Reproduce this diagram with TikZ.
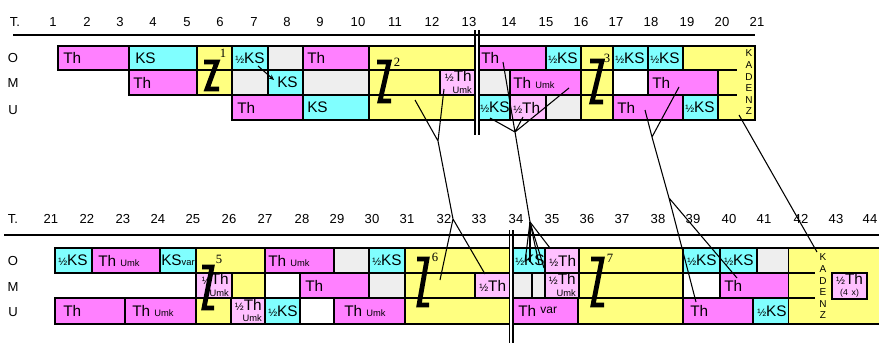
\documentclass[tikz,border=0pt]{standalone}
\usepackage{fontspec}
\setmainfont{Liberation Sans}
\newfontfamily\seriffont{Liberation Serif}
\usepackage{xcolor}
\usepackage{tikz}
\usetikzlibrary{arrows.meta}

\definecolor{thmag}{RGB}{255,128,255}
\definecolor{kscyan}{RGB}{128,255,255}
\definecolor{zyel}{RGB}{255,255,128}
\definecolor{halfpink}{RGB}{255,192,255}
\definecolor{restgrey}{RGB}{238,238,238}

\begin{document}
\begin{tikzpicture}[x=0.75pt, y=-0.75pt,
    every node/.style={inner sep=0pt},
    cell/.style={draw, line width=1.1pt},
    txt/.style={anchor=west, font=\fontsize{11.5}{12}\selectfont},
    twoln/.style={anchor=east, align=right, font=\fontsize{11.5}{8.5}\selectfont},
    num/.style={font=\fontsize{9.8}{10}\selectfont},
    zline/.style={line width=3.6pt, line join=miter},
    zsup/.style={font=\seriffont\fontsize{9.5}{9.5}\selectfont},
    link/.style={line width=0.8pt},
    kad/.style={align=center, font=\fontsize{7.5}{8.7}\selectfont},
]
\useasboundingbox (0,0) rectangle (879,343);

% bars, top half
\foreach \xa/\xb/\ya/\yb/\col in {
  58/129/46/70/thmag, 129/197/46/70/kscyan, 197/232/46/70/zyel, 232/268/46/70/kscyan,
  268/303/46/70/restgrey, 303/369/46/70/thmag, 369/475/46/70/zyel, 479/546/46/70/thmag,
  546/581/46/70/kscyan, 581/613/46/70/zyel, 613/648/46/70/kscyan, 648/683/46/70/kscyan,
  129/197/70/95/thmag, 197/232/70/95/zyel, 232/268/70/95/restgrey, 268/303/70/95/kscyan,
  303/369/70/95/restgrey, 369/440/70/95/zyel, 440/475/70/95/halfpink, 479/510/70/95/restgrey,
  510/581/70/95/thmag, 581/613/70/95/zyel, 613/648/70/95/white, 648/718/70/95/thmag,
  232/303/95/120/thmag, 303/369/95/120/kscyan, 369/475/95/120/zyel, 479/510/95/120/kscyan,
  510/546/95/120/halfpink, 546/581/95/120/restgrey, 581/613/95/120/zyel, 613/683/95/120/thmag,
  683/718/95/120/kscyan}
  \draw[cell, fill=\col] (\xa,\ya) rectangle (\xb,\yb);
\draw[cell, fill=zyel] (683,70) -- (683,46) -- (755,46) -- (755,120) -- (718,120) -- (718,70) -- cycle;
\draw[cell] (718,70) -- (737,70) (718,95) -- (737,95);

% bars, bottom half
\foreach \xa/\xb/\ya/\yb/\col in {
  55/92/248/273/kscyan, 92/160/248/273/thmag, 160/196/248/273/kscyan, 196/265/248/273/zyel,
  265/334/248/273/thmag, 334/369/248/273/restgrey, 369/405/248/273/kscyan, 405/509.5/248/273/zyel,
  513/545/248/273/kscyan, 545/579/248/273/halfpink, 579/683/248/273/zyel, 683/720/248/273/kscyan,
  720/757/248/273/kscyan, 757/789/248/273/restgrey,
  196/232/273/298/halfpink, 232/265/273/298/zyel, 265/300/273/298/white, 300/369/273/298/thmag,
  369/405/273/298/restgrey, 405/475/273/298/zyel, 475/509.5/273/298/halfpink, 513/532/273/298/restgrey,
  532/545/273/298/restgrey, 545/579/273/298/halfpink, 579/683/273/298/zyel, 683/720/273/298/white,
  720/789/273/298/thmag,
  55/125/298/324/thmag, 125/196/298/324/thmag, 196/231/298/324/zyel, 231/265/298/324/halfpink,
  265/300/298/324/kscyan, 300/334/298/324/white, 334/405/298/324/thmag, 405/509.5/298/324/zyel,
  513/578/298/324/thmag, 578/683/298/324/zyel, 683/753/298/324/thmag, 753/789/298/324/kscyan}
  \draw[cell, fill=\col] (\xa,\ya) rectangle (\xb,\yb);
\fill[zyel] (789,248) rectangle (879,324);
\draw[cell] (789,248) -- (879,248) (789,324) -- (879,324)
  (789,273) -- (815,273) (789,298) -- (815,298);
\draw[cell, fill=halfpink] (832,273) rectangle (867,299);

% measure numbers and rules
\node[num] (tt) at (15,22) {T.};
\foreach \x/\n in {53/1, 87/2, 120/3, 153/4, 187/5, 220/6, 254/7, 287/8, 320/9, 358/10,
  395/11, 432/12, 469/13, 509/14, 546/15, 581/16, 616/17, 651/18, 687/19, 722/20, 757/21}
  \node[num] (ta\n) at (\x,22) {\n};
\node[num] (tb) at (13,219) {T.};
\foreach \x/\n in {51/21, 87/22, 123/23, 158/24, 193/25, 229/26, 265/27, 302/28, 337/29, 372/30,
  407/31, 444/32, 479/33, 516/34, 552/35, 587/36, 622/37, 658/38, 693/39, 729/40, 764/41,
  801/42, 836/43, 870/44}
  \node[num] (tb\n) at (\x,219) {\n};
\draw[line width=1.2pt] (13,35) -- (755,35);
\draw[line width=1.2pt] (4,235) -- (879,235);
\draw[line width=0.9pt] (475,30) -- (475,135) (479,30) -- (479,135);
\draw[line width=0.9pt] (509.5,230) -- (509.5,343) (513,230) -- (513,343);

% voices
\foreach \y/\v/\s in {58/O/a, 83/M/b, 110/U/c, 261/O/d, 287/M/e, 312/U/f}
  \node[num] (v\s) at (13,\y) {\v};

% labels, top half
\node[txt] (o1) at (63,58) {Th};
\node[txt] (o2) at (135,58) {KS};
\node[txt] (o3) at (235,58) {{\footnotesize ½}KS};
\node[txt] (o4) at (307,58) {Th};
\node[txt] (o5) at (481,58) {Th};
\node[txt] (o6) at (548,58) {{\footnotesize ½}KS};
\node[txt] (o7) at (615,58) {{\footnotesize ½}KS};
\node[txt] (o8) at (650,58) {{\footnotesize ½}KS};
\node[txt] (m1) at (133,82.5) {Th};
\node[txt] (m2) at (277,82.5) {KS};
\node[twoln] (m3) at (472,82) {{\footnotesize ½}Th\\{\scriptsize Umk}};
\node[txt] (m4) at (513,82.5) {Th {\scriptsize Umk}};
\node[txt] (m5) at (652,82.5) {Th};
\node[txt] (u1) at (237,107.5) {Th};
\node[txt] (u2) at (307,107.5) {KS};
\node[txt] (u3) at (480,107.5) {{\footnotesize ½}KS};
\node[txt] (u4) at (513,107.5) {{\footnotesize ½}Th};
\node[txt] (u5) at (617,107.5) {Th};
\node[txt] (u6) at (685,107.5) {{\footnotesize ½}KS};
\node[kad] (kad1) at (749,82.5) {K\\A\\D\\E\\N\\Z};

% labels, bottom half
\node[txt] (o9) at (58,260.5) {{\footnotesize ½}KS};
\node[txt] (o10) at (98,260.5) {Th {\scriptsize Umk}};
\node[txt] (o11) at (161,260.5) {KS{\scriptsize var}};
\node[txt] (o12) at (268,260.5) {Th {\scriptsize Umk}};
\node[txt] (o13) at (372,260.5) {{\footnotesize ½}KS};
\node[txt] (o14) at (515,260.5) {{\footnotesize ½}KS};
\node[txt] (o15) at (549,260.5) {{\footnotesize ½}Th};
\node[txt] (o16) at (687,260.5) {{\footnotesize ½}KS};
\node[txt] (o17) at (724,260.5) {{\footnotesize ½}KS};
\node[twoln] (m6) at (229,285) {{\footnotesize ½}Th\\{\scriptsize Umk}};
\node[txt] (m7) at (305,285.5) {Th};
\node[txt] (m8) at (479,285.5) {{\footnotesize ½}Th};
\node[twoln] (m9) at (576,285) {{\footnotesize ½}Th\\{\scriptsize Umk}};
\node[txt] (m10) at (724,285.5) {Th};
\node[align=center, font=\fontsize{11.5}{8.5}\selectfont] (m11) at (849.5,285.5) {{\footnotesize ½}Th\\{\fontsize{6.5}{6.5}\selectfont (4\,\ x)}};
\node[txt] (u7) at (63,311) {Th};
\node[txt] (u8) at (132,311) {Th {\scriptsize Umk}};
\node[twoln] (u9) at (262,310.5) {{\footnotesize ½}Th\\{\scriptsize Umk}};
\node[txt] (u10) at (268,311) {{\footnotesize ½}KS};
\node[txt] (u11) at (344,311) {Th {\scriptsize Umk}};
\node[txt] (u12) at (518,311) {Th \raisebox{2pt}{\small var}};
\node[txt] (u13) at (690,311) {Th};
\node[txt] (u14) at (757,311) {{\footnotesize ½}KS};
\node[kad] (kad2) at (823,286.5) {K\\A\\D\\E\\N\\Z};

% Z signs
\draw[zline] (204,62) -- (217,62) -- (207,89) -- (219,89);
\draw[zline] (377,62) -- (389,62) -- (380,101) -- (391,101);
\draw[zline] (590,61) -- (602,61) -- (592,102) -- (603,102);
\draw[zline] (202,267) -- (212,267) -- (204,308) -- (214,308);
\draw[zline] (417,259) -- (427,259) -- (419,305) -- (429,305);
\draw[zline] (591,259) -- (602,259) -- (593,305) -- (604,305);
\node[zsup] (z1) at (223,53) {1};
\node[zsup] (z2) at (397,62) {2};
\node[zsup] (z3) at (607,58) {3};
\node[zsup] (z5) at (219,259) {5};
\node[zsup] (z6) at (435,257) {6};
\node[zsup] (z7) at (610,258) {7};

% connections
\coordinate (ha) at (258,66);
\coordinate (hb) at (274,80);
\draw[link, -{Stealth[length=4pt, width=3.5pt]}] (ha) -- (hb);

\coordinate (a1) at (415,100);
\coordinate (a2) at (444,89);
\coordinate (j1) at (438,141);
\coordinate (j2) at (453,219);
\coordinate (b1) at (440,280);
\coordinate (b2) at (485,274);
\draw[link] (a1) -- (j1) (a2) -- (j1) -- (j2) -- (b1) (j2) -- (b2);

\coordinate (c1) at (503,62);
\coordinate (c2) at (490,118);
\coordinate (c3) at (523,117);
\coordinate (c4) at (569,88);
\coordinate (j3) at (515,132);
\coordinate (j4) at (530,222);
\coordinate (d1) at (525,262);
\coordinate (d2) at (530,262);
\coordinate (d3) at (539,264);
\coordinate (d4) at (544,268);
\coordinate (d5) at (550,248);
\draw[link] (c1) -- (j3) (c2) -- (j3) (c3) -- (j3) (c4) -- (j3) -- (j4);
\foreach \d in {d1,d2,d3,d4,d5}
  \draw[link] (j4) -- (\d);

\coordinate (e1) at (645,110);
\coordinate (e2) at (679,87);
\coordinate (j5) at (652,137);
\coordinate (j6) at (669,198);
\coordinate (f1) at (696,302);
\coordinate (f2) at (737,278);
\draw[link] (e1) -- (j5) -- (j6) -- (f1) (e2) -- (j5) (j6) -- (f2);

\coordinate (g1) at (739,115);
\coordinate (g2) at (817,252);
\draw[link] (g1) -- (g2);

\end{tikzpicture}
\end{document}
